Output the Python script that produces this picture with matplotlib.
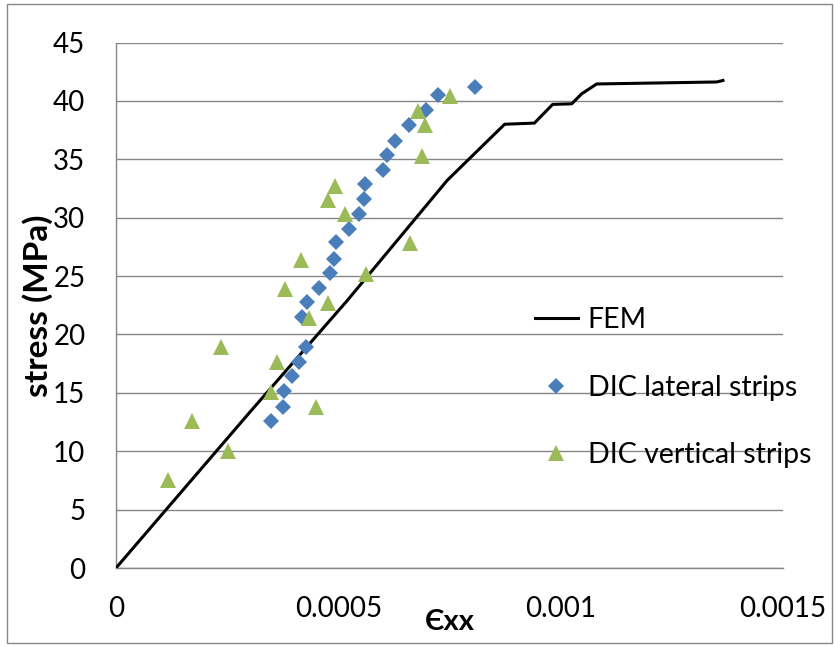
import numpy as np
import matplotlib.pyplot as plt
from matplotlib.patches import Rectangle

plt.rcParams['font.family'] = ['Lato', 'DejaVu Sans']

# FEM curve
fem_strain = [0, 3.0e-4, 5.2e-4, 7.45e-4, 8.74e-4, 9.41e-4, 9.82e-4, 1.025e-3,
              1.047e-3, 1.081e-3, 1.351e-3, 1.365e-3]
fem_stress = [0, 13.3, 22.9, 33.2, 38.0, 38.1, 39.7, 39.75,
              40.6, 41.45, 41.62, 41.75]

# DIC lateral strips
lat_strain = [8.08e-4, 7.25e-4, 6.98e-4, 6.60e-4, 6.28e-4, 6.09e-4, 6.00e-4, 5.60e-4,
              5.57e-4, 5.47e-4, 5.23e-4, 4.95e-4, 4.91e-4, 4.82e-4, 4.57e-4, 4.29e-4,
              4.19e-4, 4.27e-4, 4.11e-4, 3.95e-4, 3.77e-4, 3.76e-4, 3.48e-4]
lat_stress = [41.2, 40.5, 39.2, 37.9, 36.6, 35.4, 34.1, 32.9,
              31.6, 30.3, 29.0, 27.9, 26.5, 25.3, 24.0, 22.8,
              21.5, 18.9, 17.6, 16.4, 15.2, 13.8, 12.6]

# DIC vertical strips
ver_strain = [7.52e-4, 6.79e-4, 6.94e-4, 6.89e-4, 4.93e-4, 4.77e-4, 5.15e-4, 6.62e-4,
              4.17e-4, 5.62e-4, 3.79e-4, 4.77e-4, 4.33e-4, 2.37e-4, 3.62e-4, 3.49e-4,
              4.49e-4, 1.70e-4, 2.52e-4, 1.16e-4]
ver_stress = [40.4, 39.1, 37.9, 35.3, 32.7, 31.5, 30.3, 27.8,
              26.4, 25.2, 23.9, 22.7, 21.4, 18.9, 17.6, 15.1,
              13.8, 12.6, 10.0, 7.5]

grey = '#868686'

fig = plt.figure(figsize=(8.35, 6.47), dpi=100)
ax = fig.add_axes([0.1389, 0.1221, 0.7988, 0.8122])

ax.plot(fem_strain, fem_stress, color='black', lw=2.2, label='FEM', zorder=3)
ax.plot(lat_strain, lat_stress, ls='none', marker='D', ms=8, color='#4A7EBB',
        mew=0, label='DIC lateral strips', zorder=4)
ax.plot(ver_strain, ver_stress, ls='none', marker='^', ms=12, color='#9BBB59',
        mew=0, label='DIC vertical strips', zorder=4)

ax.set_xlim(0, 0.0015)
ax.set_ylim(0, 45)
ax.set_xticks([0, 0.0005, 0.001, 0.0015])
ax.set_xticklabels(['0', '0.0005', '0.001', '0.0015'])
ax.set_yticks(range(0, 46, 5))
ax.yaxis.grid(True, color=grey, lw=1)
ax.set_axisbelow(True)
ax.tick_params(length=0, labelsize=20, pad=20)
ax.tick_params(axis='y', pad=22)

for s in ['top', 'right']:
    ax.spines[s].set_visible(False)
for s in ['left', 'bottom']:
    ax.spines[s].set_color(grey)
    ax.spines[s].set_linewidth(1)

ax.set_xlabel('Єxx', fontsize=21, fontweight='bold')
ax.xaxis.set_label_coords(0.5, -0.078)
ax.set_ylabel('stress (MPa)', fontsize=24, fontweight='bold')
ax.yaxis.set_label_coords(-0.095, 0.5)

ax.legend(loc='upper left', bbox_to_anchor=(0.59, 0.545), frameon=False,
          fontsize=20.5, labelspacing=1.45, handlelength=1.5, handletextpad=0.35)

fig.patches.append(Rectangle((0.008, 0.006), 0.988, 0.988, transform=fig.transFigure,
                             fill=False, edgecolor=grey, lw=1))

fig.savefig('out.png', dpi=100)
